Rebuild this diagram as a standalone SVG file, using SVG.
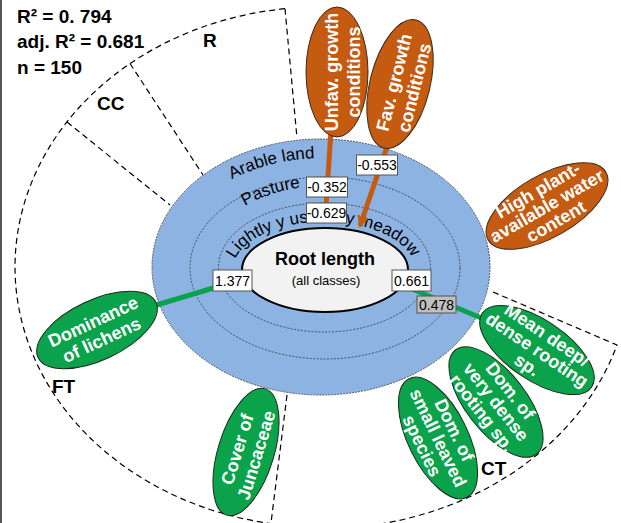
<svg xmlns="http://www.w3.org/2000/svg" width="621" height="523" viewBox="0 0 621 523">
<style>
.stat{font-family:"Liberation Sans",Arial,sans-serif;font-weight:bold;font-size:19px;fill:#000}
.sect{font-family:"Liberation Sans",Arial,sans-serif;font-weight:bold;font-size:19px;fill:#000}
.ring{font-family:"Liberation Sans",Arial,sans-serif;font-size:17px;fill:#000}
.dash{fill:none;stroke:#000;stroke-width:1.2;stroke-dasharray:6 4}
.dot{fill:none;stroke:#333;stroke-width:0.8;stroke-dasharray:2 1.5}
.org{fill:#C55A11;stroke:#3a2a1a;stroke-width:1}
.grn{fill:#0AA34B;stroke:#1a2a1a;stroke-width:1}
.nt{font-family:"Liberation Sans",Arial,sans-serif;font-weight:bold;font-size:18px;fill:#fff;text-anchor:middle}
.box{fill:#fff;stroke:#555;stroke-width:1}
.gbox{fill:#BFBFBF;stroke:#555;stroke-width:1}
.bt{font-family:"Liberation Sans",Arial,sans-serif;font-size:14px;fill:#000;text-anchor:middle}
.oline{stroke:#C55A11;stroke-width:5;fill:none}
.gline{stroke:#0AA34B;stroke-width:5;fill:none}
</style>
<defs>
<marker id="ah" markerUnits="userSpaceOnUse" markerWidth="14" markerHeight="14" refX="10" refY="6" orient="auto">
<path d="M0,0 L12,6 L0,12 Z" fill="#C55A11"/>
</marker>
<path id="pArable" d="M232,179.4 A152 110 0 0 1 474,268"/>
<path id="pPasture" d="M245,206 A120 83 0 0 1 443,268"/>
<path id="pLight" d="M235,259 A92 50 0 0 1 416,272"/>
</defs>
<rect x="0" y="0" width="2" height="523" fill="#555"/>

<g id="sectors">
<path class="dash" d="M285,8.7 A305 260 0 0 0 271,523.6"/>
<path class="dash" d="M285,8.7 L297,138"/>
<path class="dash" d="M130,63.5 L203,175"/>
<path class="dash" d="M67,122 L170,205"/>
<path class="dash" d="M287,395 L271,523"/>
<path class="dash" d="M493,292 L617,345 A310 262 0 0 1 374,525"/>
<text class="sect" x="203" y="47">R</text>
<text class="sect" x="97" y="110">CC</text>
<text class="sect" x="52" y="393">FT</text>
<text class="sect" x="481" y="475">CT</text>
</g>

<g id="stats">
<text class="stat" x="17" y="23">R² = 0. 794</text>
<text class="stat" x="17" y="48">adj. R² = 0.681</text>
<text class="stat" x="17" y="74">n = 150</text>
</g>

<g id="land-use">
<ellipse cx="321" cy="267" rx="169" ry="128" fill="#8DB3E2" stroke="#333" stroke-width="0.8" stroke-dasharray="2 1"/>
<ellipse class="dot" cx="325" cy="268" rx="135" ry="91"/>
<ellipse class="dot" cx="324.5" cy="267.5" rx="106" ry="64.5"/>
<text class="ring"><textPath href="#pArable">Arable land</textPath></text>
<text class="ring"><textPath href="#pPasture">Pasture</textPath></text>
<text class="ring"><textPath href="#pLight">Lightly y use</textPath></text>
<text class="ring"><textPath href="#pLight" startOffset="122">y meadow</textPath></text>
</g>

<g id="root">
<ellipse cx="325" cy="270" rx="83" ry="42" fill="#F2F2F2" stroke="#000" stroke-width="2"/>
<text x="325" y="265" text-anchor="middle" font-family="Liberation Sans, Arial, sans-serif" font-weight="bold" font-size="18">Root length</text>
<text x="326" y="285" text-anchor="middle" font-family="Liberation Sans, Arial, sans-serif" font-size="13">(all classes)</text>
</g>

<g id="connectors">
<line class="oline" x1="331" y1="130" x2="325" y2="222" marker-end="url(#ah)"/>
<line class="oline" x1="390" y1="138" x2="360" y2="226" marker-end="url(#ah)"/>
<line class="gline" x1="150" y1="307" x2="230" y2="283"/>
<line class="gline" x1="405" y1="286" x2="486" y2="320"/>
<rect class="box" x="356.5" y="155" width="41" height="20"/>
<text class="bt" x="377" y="170">-0.553</text>
<rect class="box" x="306.5" y="177" width="41" height="20"/>
<text class="bt" x="327" y="192">-0.352</text>
<rect class="box" x="306.5" y="203" width="40" height="20"/>
<text class="bt" x="326.5" y="218">-0.629</text>
<rect class="box" x="213" y="270" width="39" height="21"/>
<text class="bt" x="232.5" y="286">1.377</text>
<rect class="box" x="392" y="270" width="39" height="21"/>
<text class="bt" x="411.5" y="286">0.661</text>
<rect class="gbox" x="417" y="296" width="39" height="17"/>
<text class="bt" x="436.5" y="310">0.478</text>
</g>

<g id="n-unfav" transform="translate(337,72) rotate(-90)">
<ellipse class="org" cx="0" cy="0" rx="65" ry="31"/>
<text class="nt" x="0" y="1">Unfav. growth</text>
<text class="nt" x="0" y="23">conditions</text>
</g>
<g id="n-fav" transform="translate(400,84) rotate(-76)">
<ellipse class="org" cx="0" cy="0" rx="66" ry="30"/>
<text class="nt" x="0" y="0">Fav. growth</text>
<text class="nt" x="0" y="21">conditions</text>
</g>
<g id="n-water" transform="translate(547,206) rotate(-30)">
<ellipse class="org" cx="0" cy="0" rx="68" ry="31"/>
<text class="nt" x="0" y="-12">High plant-</text>
<text class="nt" x="0" y="6">available water</text>
<text class="nt" x="0" y="24">content</text>
</g>
<g id="n-lichens" transform="translate(97,330) rotate(-25)">
<ellipse class="grn" cx="0" cy="0" rx="65" ry="30"/>
<text class="nt" x="0" y="-3">Dominance</text>
<text class="nt" x="0" y="17">of lichens</text>
</g>
<g id="n-juncaceae" transform="translate(246,452) rotate(-73)">
<ellipse class="grn" cx="0" cy="0" rx="66" ry="28"/>
<text class="nt" x="0" y="-3">Cover of</text>
<text class="nt" x="0" y="17">Juncaceae</text>
</g>
<g id="n-meandeep" transform="translate(537,350) rotate(34)">
<ellipse class="grn" cx="0" cy="0" rx="66" ry="30"/>
<text class="nt" x="0" y="-12">Mean deep/</text>
<text class="nt" x="0" y="6">dense rooting</text>
<text class="nt" x="0" y="24">sp.</text>
</g>
<g id="n-verydense" transform="translate(496,402) rotate(52)">
<ellipse class="grn" cx="0" cy="0" rx="66" ry="30"/>
<text class="nt" x="0" y="-12">Dom. of</text>
<text class="nt" x="0" y="6">very dense</text>
<text class="nt" x="0" y="24">rooting sp.</text>
</g>
<g id="n-smallleaved" transform="translate(438,438) rotate(64)">
<ellipse class="grn" cx="0" cy="0" rx="66" ry="30"/>
<text class="nt" x="0" y="-12">Dom. of</text>
<text class="nt" x="0" y="6">small leaved</text>
<text class="nt" x="0" y="24">species</text>
</g>
</svg>
